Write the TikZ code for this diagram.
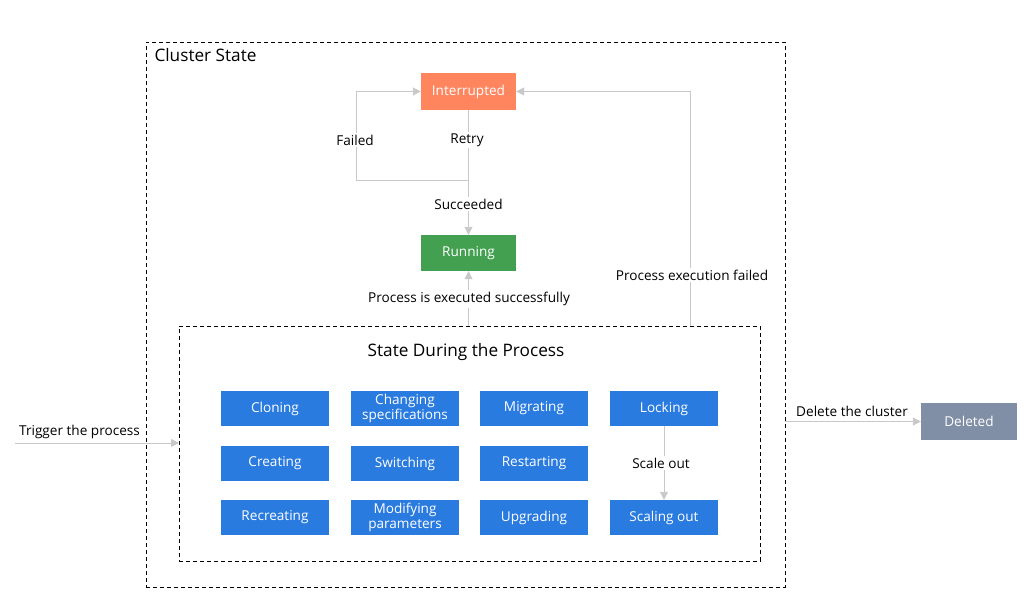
\documentclass[tikz,border=0pt]{standalone}
\usepackage{fontspec}
\setmainfont{Open Sans}
\usetikzlibrary{arrows.meta}
\definecolor{orangeS}{RGB}{255,133,95}
\definecolor{greenS}{RGB}{67,160,81}
\definecolor{blueS}{RGB}{42,123,223}
\definecolor{grayS}{RGB}{128,143,166}
\definecolor{lineS}{RGB}{200,200,200}
\tikzset{
  statebox/.style={minimum width=108pt,minimum height=35pt,inner sep=0pt,text=white,align=center,font=\fontsize{13.6}{15}\selectfont},
  proc/.style={statebox,fill=blueS},
  conn/.style={draw=lineS,line width=0.9pt,-{Triangle[length=8pt,width=8pt]}},
  plain/.style={draw=lineS,line width=0.9pt},
  lbl/.style={fill=white,inner sep=2pt,font=\fontsize{13.6}{15}\selectfont,text=black},
  frame/.style={draw=black,line width=0.8pt,dash pattern=on 4pt off 3pt}
}
\begin{document}
\begin{tikzpicture}[x=1pt,y=-1pt]
\useasboundingbox (0,0) rectangle (1035,607);
% frames
\node[frame,minimum width=639pt,minimum height=545pt,inner sep=0pt] (outer) at (465.5,314.5) {};
\node[font=\fontsize{17.2}{19}\selectfont,anchor=west] (ctitle) at (151,55) {Cluster State};
\node[frame,minimum width=581pt,minimum height=235pt,inner sep=0pt] (inner) at (469.5,443.5) {};
\node[font=\fontsize{17.2}{19}\selectfont] (ptitle) at (466,352) {State During the Process};
% states
\node[statebox,fill=orangeS,minimum width=95pt,minimum height=37pt] (int) at (468.5,91.5) {Interrupted};
\node[statebox,fill=greenS,minimum width=95pt,minimum height=36pt] (run) at (468.5,253) {Running};
\node[statebox,fill=grayS,minimum width=96pt,minimum height=37pt] (del) at (969,421.5) {Deleted};
% process boxes
\node[proc] (clone) at (275,408.5) {Cloning};
\node[proc] (chspec) at (405,408.5) {Changing\\specifications};
\node[proc] (migr) at (534,408.5) {Migrating};
\node[proc] (lock) at (664,408.5) {Locking};
\node[proc] (create) at (275,463.5) {Creating};
\node[proc] (switch) at (405,463.5) {Switching};
\node[proc] (restart) at (534,463.5) {Restarting};
\node[proc] (recreate) at (275,517.5) {Recreating};
\node[proc] (modpar) at (405,517.5) {Modifying\\parameters};
\node[proc] (upgr) at (534,517.5) {Upgrading};
\node[proc] (scale) at (664,517.5) {Scaling out};
% coordinates
\coordinate (j) at (468.5,180);
\coordinate (fl) at (356,180);
\coordinate (fu) at (356,91.5);
\coordinate (pf1) at (690,326);
\coordinate (pf2) at (690,91.5);
\coordinate (ps) at (468.5,326);
\coordinate (trig) at (15,443);
\coordinate (trigend) at (179,443);
\coordinate (delstart) at (785,421.5);
% connectors
\draw[plain] (int.south) -- (j);
\draw[conn] (j) -- (fl) -- (fu) -- (int.west);
\draw[conn] (j) -- (run.north);
\draw[conn] (ps) -- (run.south);
\draw[conn] (pf1) -- (pf2) -- (int.east);
\draw[conn] (lock.south) -- (scale.north);
\draw[conn] (trig) -- (trigend);
\draw[conn] (delstart) -- (del.west);
% labels
\node[lbl] (lfail) at (355,140) {Failed};
\node[lbl] (lretry) at (467,140) {Retry};
\node[lbl] (lsucc) at (468.5,204) {Succeeded};
\node[lbl] (lpes) at (469,299) {Process is executed successfully};
\node[lbl] (lpef) at (692,275) {Process execution failed};
\node[lbl] (lscale) at (661,463) {Scale out};
\node[lbl,fill=none,anchor=west] (ltrig) at (17,432) {Trigger the process};
\node[lbl,fill=none,anchor=west] (ldel) at (794,411) {Delete the cluster};
\end{tikzpicture}
\end{document}
